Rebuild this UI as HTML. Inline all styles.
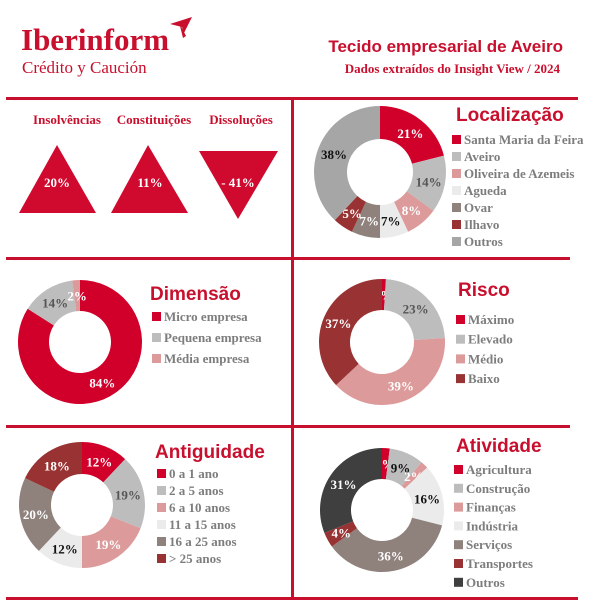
<!DOCTYPE html>
<html><head><meta charset="utf-8"><style>
body{margin:0;background:#fff;}
svg{display:block;font-family:"Liberation Serif",serif;}
.t{font-family:"Liberation Sans",sans-serif;font-weight:bold;fill:#c8102e;}
.lg{font-weight:bold;fill:#7d7d7d;font-size:13px;}
.pl{font-weight:bold;font-size:13px;text-anchor:middle;}
</style></head><body>
<svg id="s" width="604" height="610" viewBox="0 0 604 610">
<g>
<text x="21" y="50" font-size="31" font-weight="bold" fill="#c8102e">Iberinform</text>
<text x="22" y="73" font-size="17" fill="#c8102e">Crédito y Caución</text>
<path d="M170 24 L192 17 L184 33 L182 27 Z M179 22 L186 36 L183 38 Z" fill="#c8102e"/>
<text class="t" x="563" y="52" font-size="17" text-anchor="end">Tecido empresarial de Aveiro</text>
<text x="560" y="73" font-size="13" font-weight="bold" fill="#c8102e" text-anchor="end">Dados extraídos do Insight View / 2024</text>
</g>
<g fill="#c8102e">
<rect x="6" y="97" width="572" height="3"/><rect x="6" y="257" width="564" height="3"/>
<rect x="6" y="425" width="564" height="3"/><rect x="6" y="597" width="572" height="3"/>
<rect x="291" y="99" width="3" height="499"/>
</g>
<g>
<text x="67" y="124" font-size="13" font-weight="bold" fill="#c8102e" text-anchor="middle">Insolvências</text>
<text x="154" y="124" font-size="13" font-weight="bold" fill="#c8102e" text-anchor="middle">Constituições</text>
<text x="241" y="124" font-size="13" font-weight="bold" fill="#c8102e" text-anchor="middle">Dissoluções</text>
<polygon points="57,145 19,213 96,213" fill="#d0092f"/>
<polygon points="148,145 111,213 188,213" fill="#d0092f"/>
<polygon points="199,151 278,151 238,219" fill="#d0092f"/>
<text x="57" y="187" class="pl" fill="#fff">20%</text>
<text x="150" y="187" class="pl" fill="#fff">11%</text>
<text x="238" y="187" class="pl" fill="#fff">- 41%</text>
</g>
</svg>
<script>
const locCats=["Santa Maria da Feira","Aveiro","Oliveira de Azemeis","Agueda","Ovar","Ilhavo","Outros"];
const locVals=[21,14,8,7,7,5,38];
const dimCats=["Micro empresa","Pequena empresa","Média empresa"];
const dimVals=[84,14,2];
const riscoCats=["Máximo","Elevado","Médio","Baixo"];
const riscoVals=[1,23,39,37];
const antCats=["0 a 1 ano","2 a 5 anos","6 a 10 anos","11 a 15 anos","16 a 25 anos","> 25 anos"];
const antVals=[12,19,19,12,20,18];
const atiCats=["Agricultura","Construção","Finanças","Indústria","Serviços","Transportes","Outros"];
const atiVals=[2,9,2,16,36,4,31];
const NS="http://www.w3.org/2000/svg";
const svg=document.getElementById('s');
const C={red:"#d0002a",gray:"#bdbdbd",pink:"#dc9a9a",light:"#ebebeb",brown:"#8f817c",dred:"#993333",dark:"#3f3f3f",out:"#a6a6a6"};
function el(t,a,p){const e=document.createElementNS(NS,t);for(const k in a)e.setAttribute(k,a[k]);(p||svg).appendChild(e);return e;}
function donut(name,title,cats,vals,cols,lblCols,cx,cy,R,r,tx,ty,lx,ly,step){
  const g=el('g',{});
  
  
  const tot=vals.reduce((a,b)=>a+b,0);let a0=-Math.PI/2;
  vals.forEach((v,i)=>{
    const a1=a0+v/tot*2*Math.PI,lg=(a1-a0)>Math.PI?1:0;
    const p=(rr,a)=>[cx+rr*Math.cos(a),cy+rr*Math.sin(a)];
    const [x0,y0]=p(R,a0),[x1,y1]=p(R,a1),[x2,y2]=p(r,a1),[x3,y3]=p(r,a0);
    const s=el('path',{d:`M${x0} ${y0}A${R} ${R} 0 ${lg} 1 ${x1} ${y1}L${x2} ${y2}A${r} ${r} 0 ${lg} 0 ${x3} ${y3}Z`,fill:cols[i]},g);
    
    
    const am=(a0+a1)/2,[mx,my]=p((R+r)/2,am);
    const t=el('text',{x:mx,y:my+5,class:'pl',fill:lblCols[i]},g);t.textContent=v+'%';
    
    
    a0=a1;
  });
  const tt=el('text',{x:tx,y:ty,class:'t','font-size':19},g);tt.textContent=title;
  
  
  cats.forEach((c,i)=>{
    const it=el('g',{},g);
    
    
    el('rect',{x:lx,y:ly+i*step-9,width:9,height:9,fill:cols[i]},it);
    const t=el('text',{x:lx+12,y:ly+i*step,class:'lg'},it);t.textContent=c;
  });
}
donut('localizacao','Localização',locCats,locVals,[C.red,C.gray,C.pink,C.light,C.brown,C.dred,C.out],["#fff","#555","#fff","#111","#fff","#fff","#111"],380,172,66,33,456,121,452,144,17);
donut('dimensao','Dimensão',dimCats,dimVals,[C.red,C.gray,C.pink],["#fff","#555","#fff"],80,342,62,31,150,300,152,321,21);
donut('risco','Risco',riscoCats,riscoVals,[C.red,C.gray,C.pink,C.dred],["#fff","#555","#fff","#fff"],382,342,63,32,458,296,456,324,19.7);
donut('antiguidade','Antiguidade',antCats,antVals,[C.red,C.gray,C.pink,C.light,C.brown,C.dred],["#fff","#555","#fff","#111","#fff","#fff"],82,505,63,31,155,458,157,478,17);
donut('atividade','Atividade',atiCats,atiVals,[C.red,C.gray,C.pink,C.light,C.brown,C.dred,C.dark],["#fff","#111","#fff","#111","#fff","#fff","#fff"],382,510,62,31,456,452,454,474,18.8);
</script>
</body></html>
